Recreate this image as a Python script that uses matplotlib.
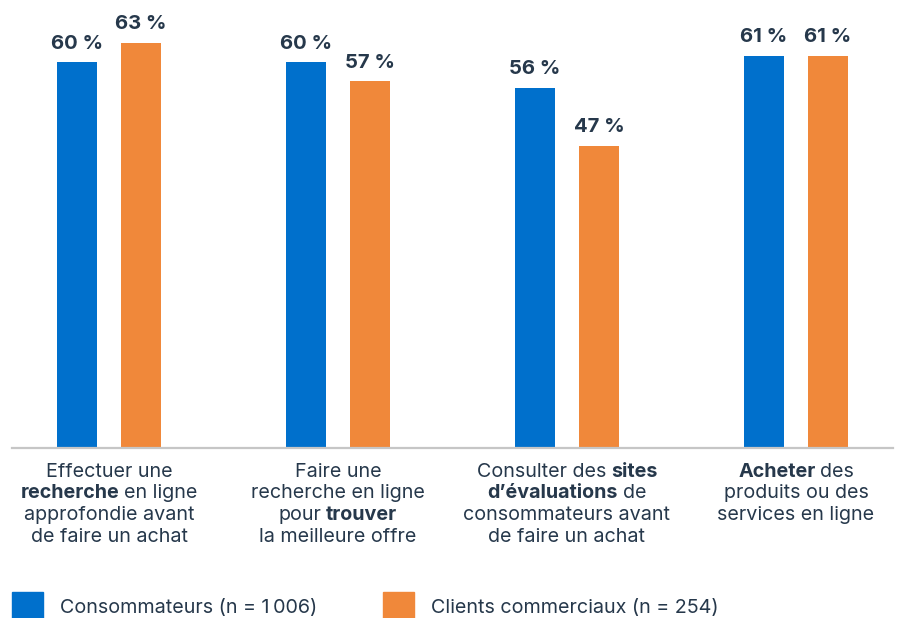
import matplotlib
matplotlib.use("Agg")
import matplotlib.pyplot as plt
from matplotlib.transforms import offset_copy
from matplotlib.patches import Rectangle

# --- data -------------------------------------------------------------
series_names = ["Consommateurs (n = 1\u2009006)", "Clients commerciaux (n = 254)"]
consommateurs = [60, 60, 56, 61]
clients_commerciaux = [63, 57, 47, 61]

# category labels: each line is a list of (text, bold) segments
category_lines = [
    [[("Effectuer une", False)],
     [("recherche", True), ("en ligne", False)],
     [("approfondie avant", False)],
     [("de faire un achat", False)]],
    [[("Faire une", False)],
     [("recherche en ligne", False)],
     [("pour", False), ("trouver", True)],
     [("la meilleure offre", False)]],
    [[("Consulter des", False), ("sites", True)],
     [("d\u2019évaluations", True), ("de", False)],
     [("consommateurs avant", False)],
     [("de faire un achat", False)]],
    [[("Acheter", True), ("des", False)],
     [("produits ou des", False)],
     [("services en ligne", False)]],
]

# --- style ------------------------------------------------------------
BLUE = "#0070cc"
ORANGE = "#f0883a"
TEXT = "#26384b"
FONT = ["Inter", "DejaVu Sans"]
plt.rcParams["font.family"] = FONT

W, H, DPI = 897, 618, 100
fig = plt.figure(figsize=(W / DPI, H / DPI), dpi=DPI)
base_px = 448
ax = fig.add_axes([12 / W, (H - base_px) / H, 881 / W, base_px / H])
ax.set_xlim(-0.4236, 3.4236)
ax.set_ylim(0, base_px / 6.433)
for s in ["top", "left", "right"]:
    ax.spines[s].set_visible(False)
ax.spines["bottom"].set_color("#c6c6c6")
ax.spines["bottom"].set_linewidth(1.6)
ax.set_xticks([])
ax.set_yticks([])
ax.patch.set_alpha(0)

bw = 40 / 229
off = 32 / 229
xs = range(len(consommateurs))
b1 = ax.bar([x - off for x in xs], consommateurs, width=bw, color=BLUE)
b2 = ax.bar([x + off for x in xs], clients_commerciaux, width=bw, color=ORANGE)

# value labels above the bars
for bars, vals in ((b1, consommateurs), (b2, clients_commerciaux)):
    for rect, v in zip(bars, vals):
        cx = rect.get_x() + rect.get_width() / 2
        tr = offset_copy(ax.transData, fig=fig, x=0, y=13.5, units="dots")
        ax.text(cx, v, f"{v} %", transform=tr, ha="center", va="baseline",
                fontsize=14.6, fontweight="bold", color=TEXT)

# category labels with mixed weights
renderer = fig.canvas.get_renderer()
LABEL_FS = 14.2


def text_width(s, bold):
    t = fig.text(0, 0, s, fontsize=LABEL_FS,
                 fontweight="bold" if bold else "normal")
    w = t.get_window_extent(renderer).width
    t.remove()
    return w


space_w = 0.85 * (text_width("x x", False) - text_width("xx", False))
line_pitch = 21.5
first_baseline = 477

for gi, lines in enumerate(category_lines):
    for li, segs in enumerate(lines):
        widths = [text_width(s, b) for s, b in segs]
        total = sum(widths) + space_w * (len(segs) - 1)
        x0 = -total / 2
        dy = -(first_baseline + li * line_pitch - base_px)
        for (s, b), w in zip(segs, widths):
            tr = offset_copy(ax.transData, fig=fig, x=x0, y=dy, units="dots")
            ax.text(gi, 0, s, transform=tr, ha="left", va="baseline",
                    fontsize=LABEL_FS, fontweight="bold" if b else "normal",
                    color=TEXT, clip_on=False)
            x0 += w + space_w

# legend drawn in figure pixels
for (sx, tx), name, col in zip(((12, 60), (383, 431)), series_names, (BLUE, ORANGE)):
    fig.patches.append(Rectangle((sx / W, (H - 623) / H), 31 / W, 31 / H,
                                 transform=fig.transFigure, color=col))
    fig.text(tx / W, (H - 613) / H, name, fontsize=14.2, color=TEXT,
             ha="left", va="baseline")

fig.savefig("out.png", dpi=DPI, facecolor="white")
